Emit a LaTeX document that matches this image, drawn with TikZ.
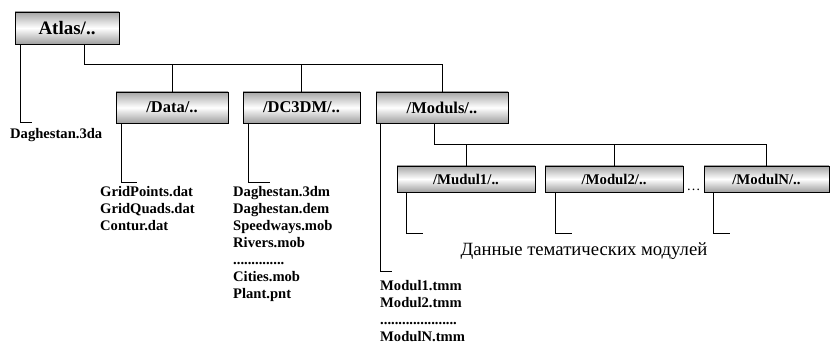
\documentclass[tikz,border=0pt]{standalone}
\usepackage{fontspec}
\setmainfont{Liberation Serif}
\usetikzlibrary{shadows, positioning}

\begin{document}
\begin{tikzpicture}[x=1pt, y=-1pt,
  dirbox/.style={draw, line width=0.8pt, rectangle, inner sep=0pt, minimum height=31pt,
    top color=gray!70, bottom color=gray!75, middle color=white,
    font=\bfseries\fontsize{16.5}{18}\selectfont,
    drop shadow={shadow xshift=1.3pt, shadow yshift=-1.3pt, fill=black!70, opacity=1}},
  subbox/.style={dirbox, minimum height=26pt, font=\bfseries\fontsize{14.8}{16}\selectfont},
  files/.style={anchor=north west, inner sep=0pt, align=left, font=\bfseries\fontsize{14.6}{17}\selectfont},
  tree/.style={line width=0.8pt}]
  \useasboundingbox (0,0) rectangle (832,344);
  % folders
  \node[dirbox, minimum width=104pt, minimum height=32pt, font=\bfseries\fontsize{19}{21}\selectfont] (atlas) at (67,28) {Atlas/..};
  \node[dirbox, minimum width=112pt] (data)   at (172,107.5) {/Data/..};
  \node[dirbox, minimum width=117pt] (dc3dm)  at (301.5,107.5) {/DC3DM/..};
  \node[dirbox, minimum width=132pt] (moduls) at (442,107.5) {/Moduls/..};
  \node[subbox, minimum width=138pt] (mod1) at (466,179) {/Mudul1/..};
  \node[subbox, minimum width=138pt] (mod2) at (614,179) {/Modul2/..};
  \node[subbox, minimum width=125pt] (modn) at (766.5,179) {/ModulN/..};
  \node[anchor=base, inner sep=0pt, font=\fontsize{14}{16}\selectfont] (gap) at (693.5,191) {\dots};
  % files
  \node[files] (atlasfiles) at (10,128) {Daghestan.3da};
  \node[files] (datafiles)  at (100,186) {GridPoints.dat\\GridQuads.dat\\Contur.dat};
  \node[files] (dc3dmfiles) at (233,186) {Daghestan.3dm\\Daghestan.dem\\Speedways.mob\\Rivers.mob\\..............\\Cities.mob\\Plant.pnt};
  \node[files] (modfiles)   at (380,280) {Modul1.tmm\\Modul2.tmm\\.....................\\ModulN.tmm};
  \node[font=\fontsize{18.7}{20}\selectfont] (note) at (584,251) {Данные тематических модулей};
  % tree
  \draw[tree] ([xshift=17]atlas.south) |- ([yshift=27]moduls.north) -- (moduls.north);
  \foreach \b in {data, dc3dm}
    \draw[tree] (\b.north) -- ([yshift=27]\b.north);
  \draw[tree] ([xshift=-8]moduls.south) |- ([yshift=21]modn.north) -- (modn.north);
  \foreach \m in {mod1, mod2}
    \draw[tree] (\m.north) -- ([yshift=21]\m.north);
  % file links
  \draw[tree] ([xshift=6]atlas.south west) |- ([xshift=22, yshift=6]atlasfiles.north west);
  \draw[tree] ([xshift=6]data.south west)  |- ([xshift=37, yshift=4]datafiles.north west);
  \draw[tree] ([xshift=6]dc3dm.south west) |- ([xshift=37, yshift=4]dc3dmfiles.north west);
  \draw[tree] ([xshift=5]moduls.south west) |- ([xshift=12, yshift=9]modfiles.north west);
  \foreach \m/\dx in {mod1/10, mod2/11, modn/10}
    \draw[tree] ([xshift=\dx]\m.south west) -- ++(0,41) -- ++(16,0);
\end{tikzpicture}
\end{document}
